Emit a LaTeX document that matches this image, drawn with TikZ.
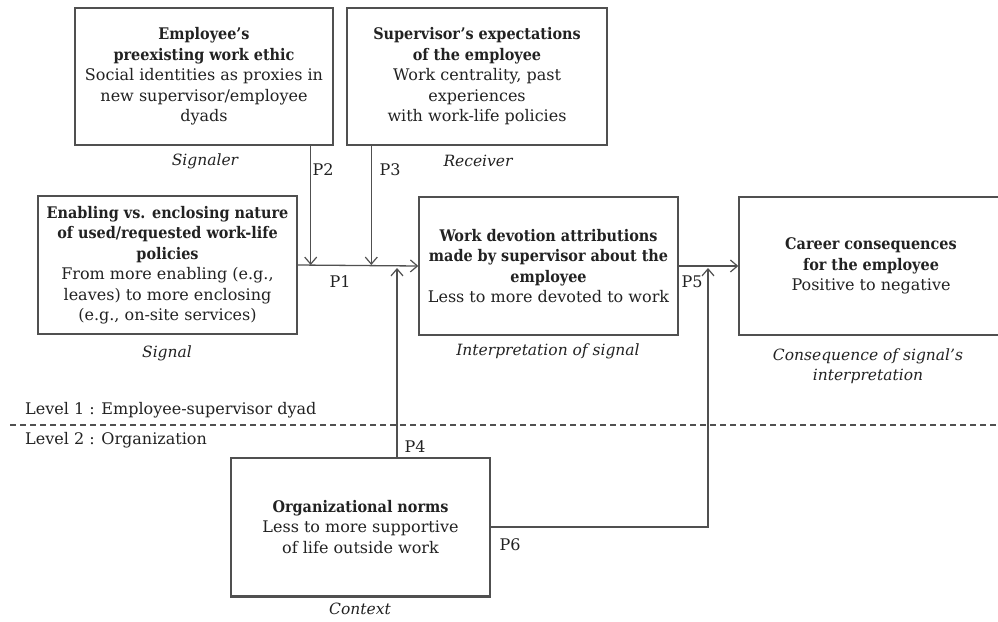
\documentclass[tikz,border=0pt]{standalone}
\usepackage{fontspec}
\setmainfont{DejaVu Serif}[BoldFont={DejaVu Serif Condensed Bold}]
\usetikzlibrary{arrows.meta}
\definecolor{inkline}{HTML}{505050}
\definecolor{inktext}{HTML}{222222}
\tikzset{
  box/.style={draw=inkline, line width=1.4pt, align=center, inner sep=0pt,
    text=inktext, font=\fontsize{16}{20.5}\selectfont},
  arr/.style={draw=inkline, line width=1.3pt,
    -{Straight Barb[length=7pt,width=12pt,line width=1.2pt]}},
  lbl/.style={text=inktext, font=\fontsize{16}{20.5}\selectfont, inner sep=0pt},
  roletext/.style={text=inktext, font=\fontsize{15.5}{20.5}\selectfont\itshape, inner sep=0pt, align=center}
}
\begin{document}
\begin{tikzpicture}[x=1pt,y=-1pt]
\useasboundingbox[fill=white] (0,0) rectangle (998,621);

% level separator
\coordinate (sepL) at (10,425);
\coordinate (sepR) at (998,425);
\draw[inkline, line width=1.3pt, dash pattern=on 6pt off 4pt] (sepL) -- (sepR);
\node[lbl, anchor=west] (lev1) at (25,410) {Level 1 : Employee-supervisor dyad};
\node[lbl, anchor=west] (lev2) at (25,440) {Level 2 : Organization};

% boxes
\node[box, minimum width=258pt, minimum height=137pt] (ethic) at (204,76.5)
  {\textbf{Employee’s}\\\textbf{preexisting work ethic}\\Social identities as proxies in\\new supervisor/employee\\dyads};
\node[box, minimum width=260pt, minimum height=137pt] (expect) at (477,76.5)
  {\textbf{Supervisor’s expectations}\\\textbf{of the employee}\\Work centrality, past\\experiences\\with work-life policies};
\node[box, minimum width=259pt, minimum height=138pt] (signal) at (167.5,265)
  {\textbf{Enabling vs. enclosing nature}\\\textbf{of used/requested work-life}\\\textbf{policies}\\From more enabling (e.g.,\\leaves) to more enclosing\\(e.g., on-site services)};
\node[box, minimum width=259pt, minimum height=138pt] (attrib) at (548.5,266)
  {\textbf{Work devotion attributions}\\\textbf{made by supervisor about the}\\\textbf{employee}\\Less to more devoted to work};
\node[box, minimum width=264pt, minimum height=138pt] (career) at (871,266)
  {\textbf{Career consequences}\\\textbf{for the employee}\\Positive to negative};
\node[box, minimum width=259pt, minimum height=138pt] (norms) at (360.5,527)
  {\textbf{Organizational norms}\\Less to more supportive\\of life outside work};
% heavier base edge of the context box
\draw[inkline, line width=2.4pt] (norms.south west) -- (norms.south east);

% role captions
\node[roletext] (cSignaler) at (205,161) {Signaler};
\node[roletext] (cReceiver) at (478,161) {Receiver};
\node[roletext] (cSignal) at (167,353) {Signal};
\node[roletext] (cInterp) at (548,351) {Interpretation of signal};
\node[roletext] (cConseq) at (868,366) {Consequence of signal{\char"0027}s\\interpretation};
\node[roletext] (cContext) at (360,609) {Context};

% connectors
\draw[arr] (signal.east) -- (attrib.west);
\draw[arr] (attrib.east) -- (career.west);
\draw[arr] ([xshift=-23pt]ethic.south east) -- ([xshift=-23pt]ethic.south east |- signal.east);
\draw[arr] ([xshift=25pt]expect.south west) -- ([xshift=25pt]expect.south west |- signal.east);
\coordinate (p4end) at (397,268);
\draw[arr] (norms.north -| p4end) -- (p4end);
\coordinate (p6corner) at (708,527);
\coordinate (p6end) at (708,268);
\draw[arr] (norms.east) -- (p6corner) -- (p6end);

% proposition labels
\node[lbl] (P1) at (340,282) {P1};
\node[lbl] (P2) at (323,170) {P2};
\node[lbl] (P3) at (390,170) {P3};
\node[lbl] (P4) at (415,447) {P4};
\node[lbl] (P5) at (692,282) {P5};
\node[lbl] (P6) at (510,545) {P6};
\end{tikzpicture}
\end{document}
